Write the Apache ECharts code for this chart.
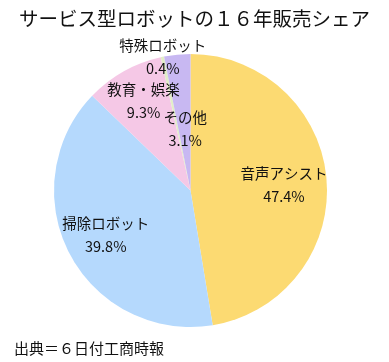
<!DOCTYPE html>
<html><head><meta charset="utf-8">
<script src="https://cdn.jsdelivr.net/npm/echarts@6/dist/echarts.min.js"></script>
<style>html,body{margin:0;padding:0;background:#fff}#c{width:389px;height:362px}</style>
</head><body><div id="c"></div>
<script>
const categories = ['音声アシスト', '掃除ロボット', '教育・娯楽', '特殊ロボット', 'その他'];
const shares = [47.4, 39.8, 9.3, 0.4, 3.1];
const colors = ['#FCDA72', '#B5D9FD', '#F5C8E6', '#E2EEC8', '#C8B8F2'];
const labelOffsets = [[-2, 2], [0, 0], [0, -6], [-8, -40], [4, 34]];
const titleText = 'サービス型ロボットの１６年販売シェア';
const sourceText = '出典＝６日付工商時報';

const FONT = '"Noto Sans CJK JP", "Noto Sans", sans-serif';
const chart = echarts.init(document.getElementById('c'), null, {renderer: 'canvas'});
const baseData = categories.map((n, i) => ({name: n, value: shares[i], itemStyle: {color: colors[i]}}));
const labelData = categories.map((n, i) => ({
  name: n, value: shares[i],
  label: {offset: labelOffsets[i]}
}));
chart.setOption({
  animation: false,
  title: [
    {text: titleText, left: 'center', top: 4, textStyle: {fontFamily: FONT, fontSize: 19.5, fontWeight: 'normal', color: '#111'}},
    {text: sourceText, left: 9, top: 336, textStyle: {fontFamily: FONT, fontSize: 15, fontWeight: 'normal', color: '#111'}}
  ],
  series: [
    {
      type: 'pie', center: [190.5, 190.5], radius: [0, 136.5], startAngle: 90, clockwise: true,
      data: baseData, label: {show: false}, labelLine: {show: false},
      itemStyle: {borderWidth: 0}, silent: true
    },
    {
      type: 'pie', center: [190.5, 190.5], radius: [49, 136.5], startAngle: 90, clockwise: true,
      data: labelData, silent: true, avoidLabelOverlap: false,
      labelLayout: {hideOverlap: false},
      itemStyle: {color: 'rgba(0,0,0,0)', borderWidth: 0},
      labelLine: {show: false},
      label: {
        show: true, position: 'inside',
        formatter: p => p.name + '\n' + p.value.toFixed(1) + '%',
        fontFamily: FONT, fontSize: 14.5, lineHeight: 23, color: '#111', align: 'center'
      }
    }
  ]
});
</script></body></html>
